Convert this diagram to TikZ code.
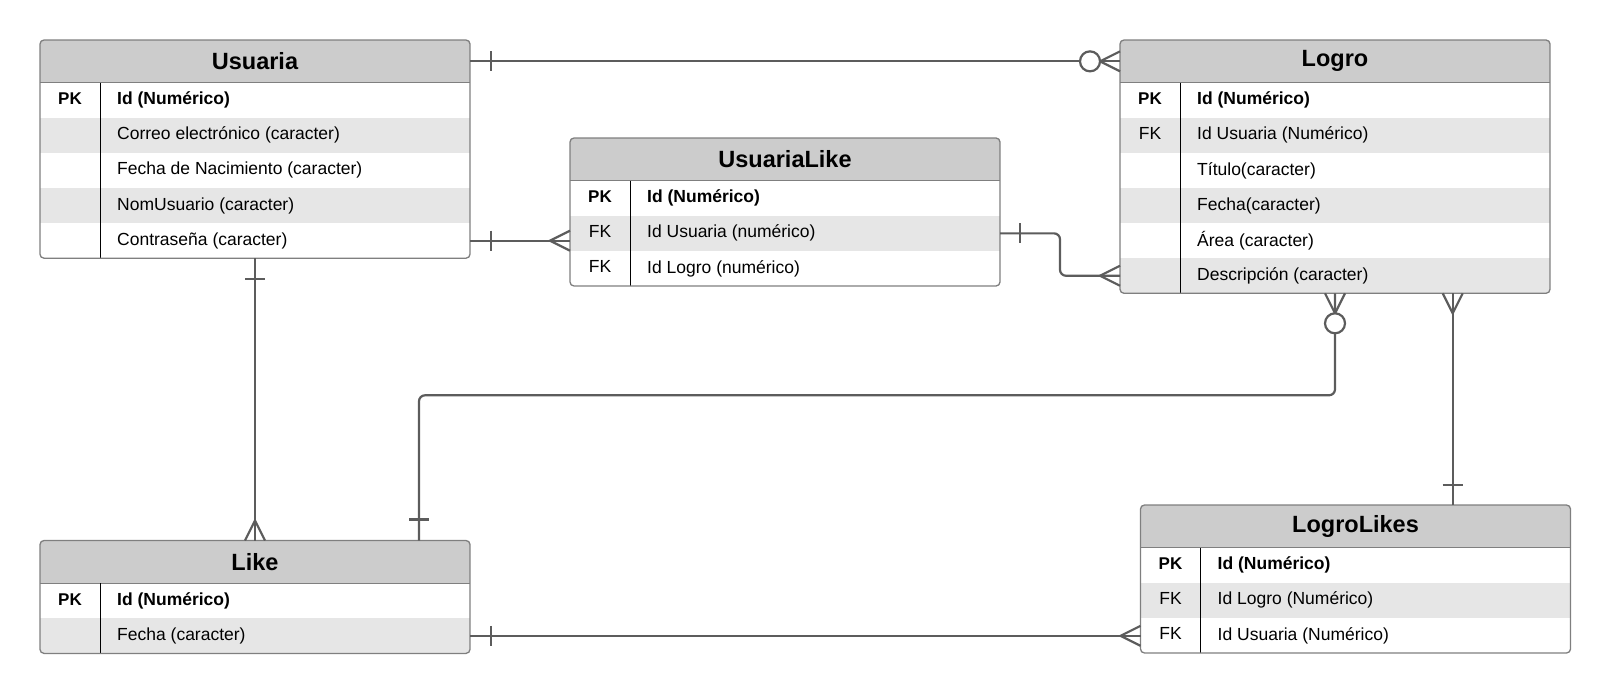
\documentclass[tikz,border=0pt]{standalone}
\usepackage{fontspec}
\setmainfont{Liberation Sans}
\usetikzlibrary{positioning}

\definecolor{headgrey}{HTML}{CCCCCC}
\definecolor{rowgrey}{HTML}{E6E6E6}
\definecolor{tabline}{HTML}{7F7F7F}
\definecolor{relline}{HTML}{5C5C5C}

\tikzset{
  head/.style={anchor=north west, minimum width=430, minimum height=42.7, inner sep=0, outer sep=0, fill=headgrey, font=\fontsize{23.5}{28}\selectfont\bfseries},
  row/.style={anchor=north west, minimum width=430, minimum height=35.1, inner sep=0, outer sep=0},
  lightrow/.style={row, fill=white},
  darkrow/.style={row, fill=rowgrey},
  key/.style={inner sep=0, xshift=30, yshift=1.5, font=\fontsize{17.5}{21}\selectfont},
  pkey/.style={key, font=\fontsize{17}{20}\selectfont\bfseries},
  field/.style={anchor=west, inner sep=0, xshift=77, font=\fontsize{17.5}{21}\selectfont},
  tabframe/.style={draw=tabline, line width=1.3, rounded corners=4},
  headline/.style={draw=tabline, line width=1.3},
  divider/.style={draw=black, line width=0.9},
  rel/.style={draw=relline, line width=2.2},
}

\begin{document}
\begin{tikzpicture}[x=1pt, y=-1pt]
\useasboundingbox (0,0) rectangle (1611,693);

% Usuaria
\begin{scope}
\clip[rounded corners=4] (40,40) rectangle (470,258.2);
\node[head] (usuaria) at (40,40) {Usuaria};
\node[lightrow, below=0pt of usuaria] (usuaria1) {};
\node[darkrow, below=0pt of usuaria1] (usuaria2) {};
\node[lightrow, below=0pt of usuaria2] (usuaria3) {};
\node[darkrow, below=0pt of usuaria3] (usuaria4) {};
\node[lightrow, below=0pt of usuaria4] (usuaria5) {};
\end{scope}
\node[pkey] (usuaria1k) at (usuaria1.west) {PK};
\node[field] (usuaria1f) at (usuaria1.west) {\textbf{Id (Numérico)}};
\node[field] (usuaria2f) at (usuaria2.west) {Correo electrónico (caracter)};
\node[field] (usuaria3f) at (usuaria3.west) {Fecha de Nacimiento (caracter)};
\node[field] (usuaria4f) at (usuaria4.west) {NomUsuario (caracter)};
\node[field] (usuaria5f) at (usuaria5.west) {Contraseña (caracter)};
\draw[headline] (usuaria.south west) -- (usuaria.south east);
\draw[divider] ([xshift=60.5]usuaria.south west) -- ([xshift=60.5]usuaria5.south west);
\draw[tabframe] (usuaria.north west) rectangle (usuaria5.south east);

% Logro
\begin{scope}
\clip[rounded corners=4] (1120,40) rectangle (1550,293.3);
\node[head] (logro) at (1120,40) {Logro};
\node[lightrow, below=0pt of logro] (logro1) {};
\node[darkrow, below=0pt of logro1] (logro2) {};
\node[lightrow, below=0pt of logro2] (logro3) {};
\node[darkrow, below=0pt of logro3] (logro4) {};
\node[lightrow, below=0pt of logro4] (logro5) {};
\node[darkrow, below=0pt of logro5] (logro6) {};
\end{scope}
\node[pkey] (logro1k) at (logro1.west) {PK};
\node[key] (logro2k) at (logro2.west) {FK};
\node[field] (logro1f) at (logro1.west) {\textbf{Id (Numérico)}};
\node[field] (logro2f) at (logro2.west) {Id Usuaria (Numérico)};
\node[field] (logro3f) at (logro3.west) {Título(caracter)};
\node[field] (logro4f) at (logro4.west) {Fecha(caracter)};
\node[field] (logro5f) at (logro5.west) {Área (caracter)};
\node[field] (logro6f) at (logro6.west) {Descripción (caracter)};
\draw[headline] (logro.south west) -- (logro.south east);
\draw[divider] ([xshift=60.5]logro.south west) -- ([xshift=60.5]logro6.south west);
\draw[tabframe] (logro.north west) rectangle (logro6.south east);

% UsuariaLike
\begin{scope}
\clip[rounded corners=4] (570,138) rectangle (1000,286);
\node[head] (usuarialike) at (570,138) {UsuariaLike};
\node[lightrow, below=0pt of usuarialike] (usuarialike1) {};
\node[darkrow, below=0pt of usuarialike1] (usuarialike2) {};
\node[lightrow, below=0pt of usuarialike2] (usuarialike3) {};
\end{scope}
\node[pkey] (usuarialike1k) at (usuarialike1.west) {PK};
\node[key] (usuarialike2k) at (usuarialike2.west) {FK};
\node[key] (usuarialike3k) at (usuarialike3.west) {FK};
\node[field] (usuarialike1f) at (usuarialike1.west) {\textbf{Id (Numérico)}};
\node[field] (usuarialike2f) at (usuarialike2.west) {Id Usuaria (numérico)};
\node[field] (usuarialike3f) at (usuarialike3.west) {Id Logro (numérico)};
\draw[headline] (usuarialike.south west) -- (usuarialike.south east);
\draw[divider] ([xshift=60]usuarialike.south west) -- ([xshift=60]usuarialike3.south west);
\draw[tabframe] (usuarialike.north west) rectangle (usuarialike3.south east);

% Like
\begin{scope}
\clip[rounded corners=4] (40,540.5) rectangle (470,653.4);
\node[head] (like) at (40,540.5) {Like};
\node[lightrow, below=0pt of like] (like1) {};
\node[darkrow, below=0pt of like1] (like2) {};
\end{scope}
\node[pkey] (like1k) at (like1.west) {PK};
\node[field] (like1f) at (like1.west) {\textbf{Id (Numérico)}};
\node[field] (like2f) at (like2.west) {Fecha (caracter)};
\draw[headline] (like.south west) -- (like.south east);
\draw[divider] ([xshift=60.5]like.south west) -- ([xshift=60.5]like2.south west);
\draw[tabframe] (like.north west) rectangle (like2.south east);

% LogroLikes
\begin{scope}
\clip[rounded corners=4] (1140.5,505) rectangle (1570.5,653);
\node[head] (logrolikes) at (1140.5,505) {LogroLikes};
\node[lightrow, below=0pt of logrolikes] (logrolikes1) {};
\node[darkrow, below=0pt of logrolikes1] (logrolikes2) {};
\node[lightrow, below=0pt of logrolikes2] (logrolikes3) {};
\end{scope}
\node[pkey] (logrolikes1k) at (logrolikes1.west) {PK};
\node[key] (logrolikes2k) at (logrolikes2.west) {FK};
\node[key] (logrolikes3k) at (logrolikes3.west) {FK};
\node[field] (logrolikes1f) at (logrolikes1.west) {\textbf{Id (Numérico)}};
\node[field] (logrolikes2f) at (logrolikes2.west) {Id Logro (Numérico)};
\node[field] (logrolikes3f) at (logrolikes3.west) {Id Usuaria (Numérico)};
\draw[headline] (logrolikes.south west) -- (logrolikes.south east);
\draw[divider] ([xshift=59.5]logrolikes.south west) -- ([xshift=59.5]logrolikes3.south west);
\draw[tabframe] (logrolikes.north west) rectangle (logrolikes3.south east);

% relations
\coordinate (ulend) at (usuaria5.east -| usuarialike2.west);
\coordinate (likeup) at ([xshift=164]like.north);
\coordinate (logrofoot) at ([xshift=117.7]logro6.south);
\coordinate (likestop) at (logrofoot |- logrolikes.north);
\coordinate (likesend) at (like2.east -| logrolikes3.west);

% Usuaria -- Logro
\draw[rel] (usuaria.east) -- (logro.west);
\draw[rel] ([xshift=21]usuaria.east) ++(0,-10) -- ++(0,20);
\draw[rel] ([yshift=10]logro.west) -- ([xshift=-20]logro.west) -- ([yshift=-10]logro.west);
\draw[rel, fill=white] ([xshift=-30]logro.west) circle (10pt);

% Usuaria -- UsuariaLike
\draw[rel] (usuaria5.east) -- (ulend);
\draw[rel] ([xshift=21]usuaria5.east) ++(0,-10) -- ++(0,20);
\draw[rel] ([yshift=10]ulend) -- ([xshift=-20]ulend) -- ([yshift=-10]ulend);

% UsuariaLike -- Logro
\draw[rel, rounded corners=6] (usuarialike2.east) -- ++(60,0) |- (logro6.west);
\draw[rel] ([xshift=20]usuarialike2.east) ++(0,-10) -- ++(0,20);
\draw[rel] ([yshift=10]logro6.west) -- ([xshift=-20]logro6.west) -- ([yshift=-10]logro6.west);

% Usuaria -- Like
\draw[rel] (usuaria5.south) -- (like.north);
\draw[rel] ([yshift=-21]usuaria5.south) ++(-10,0) -- ++(20,0);
\draw[rel] ([xshift=-10]like.north) -- ([yshift=20]like.north) -- ([xshift=10]like.north);

% Like -- Logro
\draw[rel, rounded corners=6] (likeup) |- ([yshift=-102]logro6.south) -- (logro6.south);
\draw[rel] ([yshift=21]likeup) ++(-10,0) -- ++(20,0);
\draw[rel] ([xshift=-10]logro6.south) -- ([yshift=-20]logro6.south) -- ([xshift=10]logro6.south);
\draw[rel, fill=white] ([yshift=-30]logro6.south) circle (10pt);

% Logro -- LogroLikes
\draw[rel] (logrofoot) -- (likestop);
\draw[rel] ([xshift=-10]logrofoot) -- ([yshift=-20]logrofoot) -- ([xshift=10]logrofoot);
\draw[rel] ([yshift=20]likestop) ++(-10,0) -- ++(20,0);

% Like -- LogroLikes
\draw[rel] (like2.east) -- (likesend);
\draw[rel] ([xshift=21]like2.east) ++(0,-10) -- ++(0,20);
\draw[rel] ([yshift=10]likesend) -- ([xshift=-20]likesend) -- ([yshift=-10]likesend);
\end{tikzpicture}
\end{document}
